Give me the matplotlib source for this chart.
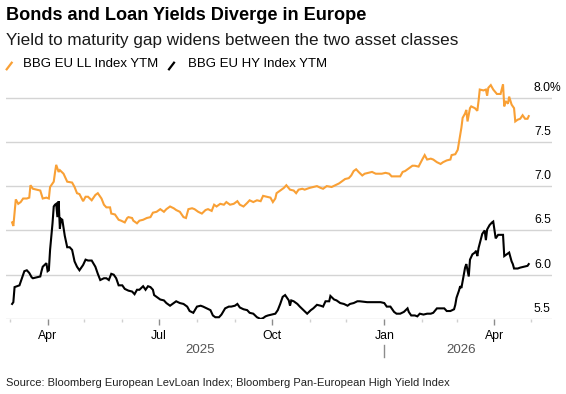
import matplotlib
matplotlib.use("Agg")
import matplotlib.pyplot as plt
import matplotlib.dates as mdates
from matplotlib.lines import Line2D
from matplotlib.transforms import offset_copy, blended_transform_factory
import pandas as pd

plt.rcParams['font.family'] = ['Liberation Sans', 'DejaVu Sans']

# BBG EU LL Index YTM (leveraged loans), %
ll_dates = [
    "2025-03-03", "2025-03-04", "2025-03-06", "2025-03-08", "2025-03-10", "2025-03-12", "2025-03-15", "2025-03-17", "2025-03-18", "2025-03-20",
    "2025-03-23", "2025-03-26", "2025-03-28", "2025-03-31", "2025-04-02", "2025-04-03", "2025-04-06", "2025-04-07", "2025-04-08", "2025-04-10",
    "2025-04-11", "2025-04-14", "2025-04-17", "2025-04-21", "2025-04-23", "2025-04-25", "2025-04-27", "2025-04-30", "2025-05-02", "2025-05-04",
    "2025-05-07", "2025-05-10", "2025-05-12", "2025-05-15", "2025-05-17", "2025-05-19", "2025-05-22", "2025-05-23", "2025-05-26", "2025-05-29",
    "2025-05-31", "2025-06-03", "2025-06-05", "2025-06-06", "2025-06-09", "2025-06-10", "2025-06-13", "2025-06-15", "2025-06-18", "2025-06-21",
    "2025-06-24", "2025-06-26", "2025-06-29", "2025-07-02", "2025-07-05", "2025-07-07", "2025-07-10", "2025-07-13", "2025-07-15", "2025-07-18",
    "2025-07-21", "2025-07-23", "2025-07-25", "2025-07-28", "2025-07-30", "2025-08-02", "2025-08-05", "2025-08-08", "2025-08-10", "2025-08-13",
    "2025-08-15", "2025-08-17", "2025-08-20", "2025-08-23", "2025-08-25", "2025-08-28", "2025-08-31", "2025-09-03", "2025-09-05", "2025-09-08",
    "2025-09-11", "2025-09-13", "2025-09-16", "2025-09-19", "2025-09-22", "2025-09-24", "2025-09-27", "2025-09-30", "2025-10-02", "2025-10-04",
    "2025-10-05", "2025-10-08", "2025-10-11", "2025-10-13", "2025-10-16", "2025-10-19", "2025-10-21", "2025-10-23", "2025-10-26", "2025-10-28",
    "2025-11-01", "2025-11-04", "2025-11-07", "2025-11-10", "2025-11-12", "2025-11-15", "2025-11-19", "2025-11-22", "2025-11-25", "2025-11-27",
    "2025-11-30", "2025-12-03", "2025-12-05", "2025-12-07", "2025-12-09", "2025-12-11", "2025-12-14", "2025-12-16", "2025-12-19", "2025-12-22",
    "2025-12-25", "2025-12-27", "2025-12-30", "2026-01-02", "2026-01-05", "2026-01-07", "2026-01-10", "2026-01-14", "2026-01-16", "2026-01-18",
    "2026-01-21", "2026-01-24", "2026-01-26", "2026-01-29", "2026-02-01", "2026-02-03", "2026-02-05", "2026-02-08", "2026-02-10", "2026-02-13",
    "2026-02-16", "2026-02-18", "2026-02-21", "2026-02-24", "2026-02-25", "2026-02-28", "2026-03-02", "2026-03-04", "2026-03-05", "2026-03-06",
    "2026-03-08", "2026-03-09", "2026-03-10", "2026-03-12", "2026-03-13", "2026-03-16", "2026-03-18", "2026-03-19", "2026-03-20", "2026-03-23",
    "2026-03-25", "2026-03-26", "2026-03-27", "2026-03-29", "2026-03-31", "2026-04-03", "2026-04-06", "2026-04-08", "2026-04-09", "2026-04-10",
    "2026-04-12", "2026-04-13", "2026-04-15", "2026-04-17", "2026-04-18", "2026-04-20", "2026-04-22", "2026-04-24", "2026-04-26", "2026-04-28",
    "2026-04-29",
]
ll_ytm = [
    6.59, 6.55, 6.85, 6.80, 6.82, 6.86, 6.86, 6.87, 7.01, 6.97,
    6.96, 6.95, 6.86, 6.87, 6.86, 6.99, 7.05, 7.15, 7.24, 7.16,
    7.18, 7.14, 7.05, 7.04, 6.99, 6.92, 6.91, 6.83, 6.88, 6.88,
    6.84, 6.90, 6.92, 6.86, 6.79, 6.76, 6.76, 6.69, 6.68, 6.62,
    6.61, 6.59, 6.64, 6.65, 6.64, 6.61, 6.58, 6.61, 6.62, 6.64,
    6.65, 6.70, 6.71, 6.74, 6.71, 6.74, 6.77, 6.75, 6.73, 6.71,
    6.65, 6.64, 6.74, 6.75, 6.74, 6.71, 6.69, 6.73, 6.74, 6.72,
    6.79, 6.77, 6.80, 6.79, 6.82, 6.79, 6.80, 6.83, 6.79, 6.77,
    6.81, 6.84, 6.82, 6.84, 6.83, 6.89, 6.88, 6.87, 6.82, 6.86,
    6.92, 6.95, 6.98, 7.01, 6.96, 6.95, 6.92, 6.96, 6.97, 6.96,
    6.98, 6.99, 7.00, 6.98, 6.97, 7.00, 6.99, 7.01, 7.03, 7.05,
    7.08, 7.09, 7.12, 7.17, 7.19, 7.16, 7.12, 7.14, 7.15, 7.16,
    7.14, 7.14, 7.14, 7.15, 7.14, 7.11, 7.11, 7.11, 7.16, 7.17,
    7.20, 7.23, 7.23, 7.22, 7.30, 7.35, 7.30, 7.31, 7.30, 7.27,
    7.25, 7.27, 7.29, 7.30, 7.35, 7.36, 7.41, 7.58, 7.66, 7.77,
    7.82, 7.86, 7.73, 7.88, 7.90, 7.88, 7.85, 7.96, 8.09, 8.08,
    8.09, 8.02, 8.11, 8.14, 8.09, 8.04, 8.04, 8.15, 7.90, 7.96,
    7.93, 8.01, 7.92, 7.88, 7.73, 7.75, 7.76, 7.80, 7.76, 7.76,
    7.79,
]

# BBG EU HY Index YTM (high yield bonds), %
hy_dates = [
    "2025-03-03", "2025-03-04", "2025-03-05", "2025-03-07", "2025-03-09", "2025-03-11", "2025-03-13", "2025-03-15", "2025-03-17", "2025-03-19",
    "2025-03-20", "2025-03-23", "2025-03-26", "2025-03-27", "2025-03-28", "2025-03-31", "2025-04-01", "2025-04-02", "2025-04-03", "2025-04-05",
    "2025-04-06", "2025-04-07", "2025-04-08", "2025-04-09", "2025-04-10", "2025-04-11", "2025-04-12", "2025-04-13", "2025-04-14", "2025-04-15",
    "2025-04-17", "2025-04-19", "2025-04-21", "2025-04-23", "2025-04-25", "2025-04-27", "2025-04-30", "2025-05-02", "2025-05-04", "2025-05-07",
    "2025-05-10", "2025-05-12", "2025-05-14", "2025-05-17", "2025-05-19", "2025-05-21", "2025-05-23", "2025-05-25", "2025-05-27", "2025-05-29",
    "2025-06-01", "2025-06-03", "2025-06-06", "2025-06-09", "2025-06-11", "2025-06-13", "2025-06-15", "2025-06-18", "2025-06-20", "2025-06-22",
    "2025-06-24", "2025-06-26", "2025-06-27", "2025-06-29", "2025-07-02", "2025-07-05", "2025-07-07", "2025-07-10", "2025-07-13", "2025-07-15",
    "2025-07-18", "2025-07-21", "2025-07-24", "2025-07-26", "2025-07-29", "2025-08-01", "2025-08-04", "2025-08-06", "2025-08-09", "2025-08-12",
    "2025-08-14", "2025-08-16", "2025-08-19", "2025-08-21", "2025-08-24", "2025-08-27", "2025-08-29", "2025-09-01", "2025-09-03", "2025-09-05",
    "2025-09-08", "2025-09-11", "2025-09-13", "2025-09-16", "2025-09-19", "2025-09-22", "2025-09-24", "2025-09-26", "2025-09-28", "2025-10-01",
    "2025-10-04", "2025-10-06", "2025-10-08", "2025-10-10", "2025-10-12", "2025-10-13", "2025-10-15", "2025-10-16", "2025-10-17", "2025-10-19",
    "2025-10-22", "2025-10-24", "2025-10-27", "2025-10-30", "2025-11-02", "2025-11-04", "2025-11-07", "2025-11-10", "2025-11-12", "2025-11-14",
    "2025-11-17", "2025-11-18", "2025-11-21", "2025-11-23", "2025-11-26", "2025-11-29", "2025-12-02", "2025-12-04", "2025-12-07", "2025-12-10",
    "2025-12-12", "2025-12-18", "2025-12-23", "2025-12-29", "2026-01-01", "2026-01-03", "2026-01-06", "2026-01-09", "2026-01-11", "2026-01-14",
    "2026-01-17", "2026-01-20", "2026-01-21", "2026-01-23", "2026-01-26", "2026-01-28", "2026-01-30", "2026-02-02", "2026-02-05", "2026-02-08",
    "2026-02-10", "2026-02-13", "2026-02-16", "2026-02-19", "2026-02-21", "2026-02-24", "2026-02-27", "2026-02-28", "2026-03-01", "2026-03-03",
    "2026-03-04", "2026-03-05", "2026-03-07", "2026-03-08", "2026-03-09", "2026-03-11", "2026-03-12", "2026-03-14", "2026-03-16", "2026-03-17",
    "2026-03-18", "2026-03-19", "2026-03-21", "2026-03-22", "2026-03-24", "2026-03-25", "2026-03-26", "2026-03-28", "2026-03-30", "2026-03-31",
    "2026-04-02", "2026-04-04", "2026-04-06", "2026-04-08", "2026-04-09", "2026-04-11", "2026-04-13", "2026-04-15", "2026-04-16", "2026-04-17",
    "2026-04-20", "2026-04-22", "2026-04-25", "2026-04-28", "2026-04-29",
]
hy_ytm = [
    5.67, 5.69, 5.86, 5.87, 5.88, 5.96, 6.04, 6.05, 6.02, 5.97,
    5.96, 5.97, 5.98, 6.04, 6.09, 6.13, 6.04, 6.05, 6.28, 6.58,
    6.77, 6.79, 6.80, 6.65, 6.83, 6.52, 6.63, 6.62, 6.53, 6.44,
    6.31, 6.31, 6.28, 6.15, 6.09, 6.05, 6.11, 6.17, 6.16, 6.16,
    6.09, 6.01, 5.94, 5.96, 5.96, 5.94, 6.01, 6.00, 5.96, 5.88,
    5.88, 5.84, 5.82, 5.81, 5.78, 5.83, 5.83, 5.87, 5.83, 5.87,
    5.86, 5.83, 5.77, 5.75, 5.72, 5.71, 5.68, 5.65, 5.68, 5.70,
    5.68, 5.67, 5.64, 5.59, 5.57, 5.64, 5.65, 5.64, 5.62, 5.60,
    5.54, 5.52, 5.52, 5.55, 5.62, 5.64, 5.64, 5.65, 5.67, 5.63,
    5.61, 5.60, 5.57, 5.56, 5.52, 5.50, 5.51, 5.53, 5.54, 5.55,
    5.56, 5.60, 5.67, 5.75, 5.77, 5.75, 5.71, 5.65, 5.71, 5.70,
    5.67, 5.64, 5.60, 5.56, 5.60, 5.62, 5.66, 5.65, 5.64, 5.70,
    5.70, 5.76, 5.72, 5.71, 5.68, 5.67, 5.65, 5.67, 5.68, 5.70,
    5.70, 5.69, 5.69, 5.69, 5.68, 5.64, 5.64, 5.58, 5.56, 5.56,
    5.58, 5.62, 5.58, 5.54, 5.54, 5.53, 5.56, 5.55, 5.56, 5.56,
    5.57, 5.62, 5.62, 5.62, 5.59, 5.59, 5.61, 5.66, 5.74, 5.82,
    5.87, 5.85, 6.00, 6.08, 6.12, 5.98, 6.17, 6.23, 6.25, 6.27,
    6.21, 6.30, 6.41, 6.46, 6.50, 6.39, 6.51, 6.56, 6.59, 6.60,
    6.41, 6.45, 6.45, 6.45, 6.21, 6.23, 6.25, 6.15, 6.12, 6.07,
    6.07, 6.08, 6.09, 6.10, 6.12,
]

y_ticks = [5.5, 6.0, 6.5, 7.0, 7.5, 8.0]
y_labels = ["5.5", "6.0", "6.5", "7.0", "7.5", "8.0%"]
x_ticks = ["2025-04-01", "2025-07-01", "2025-10-01", "2026-01-01", "2026-04-01"]
x_labels = ["Apr", "Jul", "Oct", "Jan", "Apr"]

ORANGE = '#f9a035'
GRID = '#d4d4d4'

ll = pd.Series(ll_ytm, index=pd.to_datetime(ll_dates))
hy = pd.Series(hy_ytm, index=pd.to_datetime(hy_dates))


def dnum(s):
    return mdates.date2num(pd.Timestamp(s))


W, H = 566, 394
fig = plt.figure(figsize=(W / 100, H / 100), dpi=100)
ax = fig.add_axes([6 / W, 1 - 319 / H, 546 / W, 239.2 / H])

for y in y_ticks:
    ax.axhline(y, color=GRID, lw=1.0, zorder=1)

ax.plot(ll.index, ll.values, color=ORANGE, lw=1.5, zorder=3, solid_joinstyle='miter')
ax.plot(hy.index, hy.values, color='black', lw=1.5, zorder=3, solid_joinstyle='miter')

ax.set_xlim(dnum("2025-02-26"), dnum("2026-05-18"))
ax.set_ylim(5.5, 8.2)
for s in ax.spines.values():
    s.set_visible(False)
ax.set_yticks([])

ax.set_xticks([dnum(d) for d in x_ticks])
ax.set_xticklabels(x_labels)
ax.xaxis.set_minor_locator(mdates.MonthLocator())
ax.tick_params(axis='x', which='major', length=4, width=1, color='#8c8c8c',
               labelsize=8.8, pad=3.6, labelcolor='black')
ax.tick_params(axis='x', which='minor', length=2.5, width=1, color='#d0d0d0')

# y labels sit inside the plot, just above each gridline
ytr = offset_copy(ax.get_yaxis_transform(), fig=fig, x=0, y=10, units='dots')
for v, lab in zip(y_ticks, y_labels):
    ax.text(0.967, v, lab, transform=ytr, ha='left', va='center', fontsize=8.7, color='black')

# year labels and year separator
xtr = blended_transform_factory(ax.transData, fig.transFigure)
fig.text(dnum("2025-08-04"), 1 - 350 / H, "2025", transform=xtr, ha='center', va='center',
         fontsize=9.6, color='#555555')
fig.text(dnum("2026-03-05"), 1 - 350 / H, "2026", transform=xtr, ha='center', va='center',
         fontsize=9.6, color='#555555')
jan = dnum("2026-01-01")
fig.add_artist(Line2D([jan, jan], [1 - 345 / H, 1 - 357 / H], transform=xtr,
                      color='#8c8c8c', lw=1))

# header
fig.text(6 / W, 1 - 15 / H, "Bonds and Loan Yields Diverge in Europe", fontsize=13.1,
         fontweight='bold', ha='left', va='center', color='black')
fig.text(6 / W, 1 - 40 / H, "Yield to maturity gap widens between the two asset classes",
         fontsize=12.3, ha='left', va='center', color='#1a1a1a')

# legend
fig.add_artist(Line2D([6.7 / W, 11.7 / W], [1 - 69.3 / H, 1 - 62.7 / H], color=ORANGE, lw=1.6))
fig.text(23.3 / W, 1 - 64 / H, "BBG EU LL Index YTM", fontsize=9.5, ha='left', va='center')
fig.add_artist(Line2D([169 / W, 174 / W], [1 - 69.3 / H, 1 - 62.7 / H], color='black', lw=1.6))
fig.text(188 / W, 1 - 64 / H, "BBG EU HY Index YTM", fontsize=9.5, ha='left', va='center')

fig.text(6 / W, 1 - 383 / H,
         "Source: Bloomberg European LevLoan Index; Bloomberg Pan-European High Yield Index",
         fontsize=8.0, ha='left', va='center', color='#222222')

fig.savefig("out.png", dpi=100)
